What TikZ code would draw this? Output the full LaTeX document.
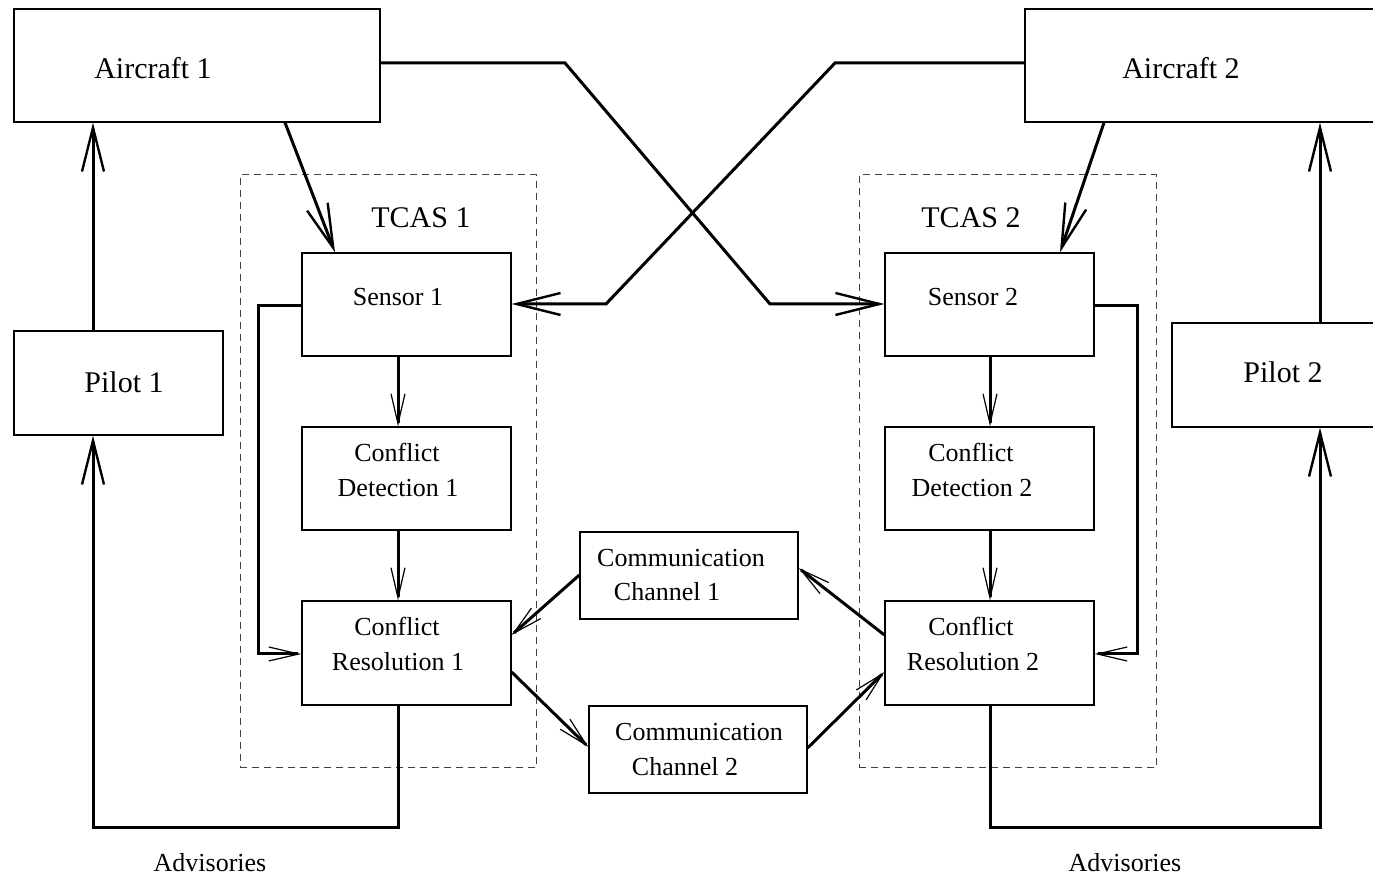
\documentclass[tikz,border=0pt]{standalone}
\usepackage{fontspec}
\setmainfont{Liberation Serif}
\usetikzlibrary{arrows.meta,fit}
\begin{document}
\begin{tikzpicture}[x=0.5pt,y=-0.5pt,
  box/.style={draw,line width=0.6pt,inner sep=0pt},
  tcas/.style={draw=black!75,line width=0.5pt,dash pattern=on 3.5pt off 2.5pt,inner sep=0pt},
  bigtxt/.style={anchor=base,inner sep=0pt,font=\fontsize{15pt}{18pt}\selectfont},
  smalltxt/.style={anchor=base,inner sep=0pt,font=\fontsize{13pt}{16pt}\selectfont},
  wire/.style={line width=1.5pt},
  bighead/.style={wire,-{Straight Barb[length=22pt,width=11pt,line width=1.2pt]}},
  smallhead/.style={wire,-{Straight Barb[length=15pt,width=7pt,line width=0.6pt]}}
]
\useasboundingbox (0,0) rectangle (1373,876);
\clip (0,0) rectangle (1373,876);

% aircraft and pilots
\node[box,fit={(14,9)(380,122)}] (a1) {};
\node[box,fit={(1025,9)(1395,122)}] (a2) {};
\node[box,fit={(14,331)(223,435)}] (p1) {};
\node[box,fit={(1172,323)(1395,427)}] (p2) {};

% TCAS units
\node[tcas,fit={(240,175)(536,768)}] (t1) {};
\node[tcas,fit={(859,175)(1156,768)}] (t2) {};
\node[box,fit={(302,253)(511,356)}] (s1) {};
\node[box,fit={(302,427)(511,530)}] (d1) {};
\node[box,fit={(302,601)(511,705)}] (r1) {};
\node[box,fit={(885,253)(1094,356)}] (s2) {};
\node[box,fit={(885,427)(1094,530)}] (d2) {};
\node[box,fit={(885,601)(1094,705)}] (r2) {};

% communication channels
\node[box,fit={(580,532)(798,619)}] (c1) {};
\node[box,fit={(589,706)(807,793)}] (c2) {};

% labels
\node[bigtxt] (a1t) at (153,79) {Aircraft 1};
\node[bigtxt] (a2t) at (1181,79) {Aircraft 2};
\node[bigtxt] (p1t) at (124,393) {Pilot 1};
\node[bigtxt] (p2t) at (1283,383) {Pilot 2};
\node[bigtxt] (t1t) at (421,228) {TCAS 1};
\node[bigtxt] (t2t) at (971,228) {TCAS 2};
\node[smalltxt] (s1t) at (398,306) {Sensor 1};
\node[smalltxt] (s2t) at (973,306) {Sensor 2};
\node[smalltxt] (d1a) at (397,462) {Conflict};
\node[smalltxt] (d1b) at (398,497) {Detection 1};
\node[smalltxt] (d2a) at (971,462) {Conflict};
\node[smalltxt] (d2b) at (972,497) {Detection 2};
\node[smalltxt] (r1a) at (397,636) {Conflict};
\node[smalltxt] (r1b) at (398,671) {Resolution 1};
\node[smalltxt] (r2a) at (971,636) {Conflict};
\node[smalltxt] (r2b) at (973,671) {Resolution 2};
\node[smalltxt] (c1a) at (681,567) {Communication};
\node[smalltxt] (c1b) at (667,601) {Channel 1};
\node[smalltxt] (c2a) at (699,741) {Communication};
\node[smalltxt] (c2b) at (685,776) {Channel 2};
\node[smalltxt] (v1) at (210,872) {Advisories};
\node[smalltxt] (v2) at (1125,872) {Advisories};

% aircraft state to the other aircraft's sensor
\draw[bighead] (a1.east |- 0,63) -- (565,63) -- (770,304) -- (s2.west |- 0,304);
\draw[bighead] (a2.west |- 0,63) -- (835,63) -- (606,304) -- (s1.east |- 0,304);

% aircraft state to own sensor
\draw[bighead] (a1.south -| 285,0) -- (s1.north -| 335,0);
\draw[bighead] (a2.south -| 1104,0) -- (s2.north -| 1060,0);

% pilot commands
\draw[bighead] (p1.north -| 93,0) -- (a1.south -| 93,0);
\draw[bighead] (p2.north -| 1320,0) -- (a2.south -| 1320,0);

% internal TCAS flow
\draw[smallhead] (s1.west |- 0,306) -- (258,306) -- (258,654) -- (r1.west |- 0,654);
\draw[smallhead] (s2.east |- 0,306) -- (1137,306) -- (1137,654) -- (r2.east |- 0,654);
\draw[smallhead] (s1.south -| 398,0) -- (d1.north -| 398,0);
\draw[smallhead] (d1.south -| 398,0) -- (r1.north -| 398,0);
\draw[smallhead] (s2.south -| 990,0) -- (d2.north -| 990,0);
\draw[smallhead] (d2.south -| 990,0) -- (r2.north -| 990,0);

% advisories
\draw[bighead] (r1.south -| 398,0) -- (398,828) -- (93,828) -- (p1.south -| 93,0);
\draw[bighead] (r2.south -| 990,0) -- (990,828) -- (1320,828) -- (p2.south -| 1320,0);

% communication links
\draw[smallhead] (c1.west |- 0,575) -- (r1.east |- 0,635);
\draw[smallhead] (r2.west |- 0,635) -- (c1.east |- 0,568);
\draw[smallhead] (r1.east |- 0,672) -- (c2.west |- 0,747);
\draw[smallhead] (c2.east |- 0,748) -- (r2.west |- 0,672);
\end{tikzpicture}
\end{document}
